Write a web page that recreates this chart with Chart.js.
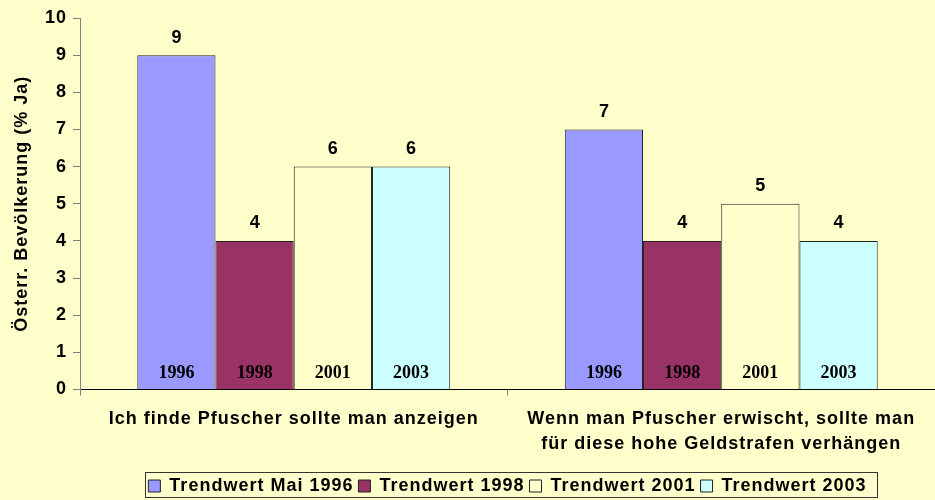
<!DOCTYPE html>
<html>
<head>
<meta charset="utf-8">
<script src="https://cdn.jsdelivr.net/npm/chart.js@4/dist/chart.umd.min.js"></script>
<style>
  html, body { margin: 0; padding: 0; background: #FFFFCC; overflow: hidden; }
  #wrap { width: 935px; height: 500px; }
</style>
</head>
<body>
<div id="wrap"><canvas id="c" width="935" height="500"></canvas></div>
<script>
const categories = [
  'Ich finde Pfuscher sollte man anzeigen',
  ['Wenn man Pfuscher erwischt, sollte man', 'für diese hohe Geldstrafen verhängen']
];
const seriesNames = ['Trendwert Mai 1996', 'Trendwert 1998', 'Trendwert 2001', 'Trendwert 2003'];
const yearLabels = ['1996', '1998', '2001', '2003'];
const values1996 = [9, 7];
const values1998 = [4, 4];
const values2001 = [6, 5];
const values2003 = [6, 4];
const yTicks = [0, 1, 2, 3, 4, 5, 6, 7, 8, 9, 10];
const yTitle = 'Österr. Bevölkerung (% Ja)';

const colors = ['#9999FF', '#993366', '#FFFFCC', '#CCFFFF'];
const seriesValues = [values1996, values1998, values2001, values2003];
const SANS = '"Liberation Sans", Arial, sans-serif';
const SERIF = '"Liberation Serif", "Times New Roman", serif';

function spacing(chart) { chart.ctx.letterSpacing = '1px'; }

const spacingPlugin = {
  id: 'spacing',
  beforeUpdate: spacing,
  beforeLayout: spacing,
  beforeDraw: spacing
};

const labelPlugin = {
  id: 'barLabels',
  afterDatasetsDraw(chart) {
    const ctx = chart.ctx;
    ctx.save();
    ctx.letterSpacing = '1px';
    ctx.fillStyle = '#000';
    ctx.textAlign = 'center';
    ctx.textBaseline = 'middle';
    chart.data.datasets.forEach((ds, i) => {
      const meta = chart.getDatasetMeta(i);
      meta.data.forEach((bar, j) => {
        ctx.font = 'bold 18px ' + SANS;
        ctx.fillText(String(ds.data[j]), bar.x + 0.5, bar.y - 17.5);
        ctx.font = 'bold 18px ' + SERIF;
        ctx.letterSpacing = '0px';
        ctx.fillText(yearLabels[i], bar.x, bar.base - 16);
        ctx.letterSpacing = '1px';
      });
    });
    ctx.restore();
  }
};

const legendFramePlugin = {
  id: 'legendFrame',
  afterDraw(chart) {
    const lg = chart.legend;
    if (!lg || !lg.legendHitBoxes || !lg.legendHitBoxes.length) return;
    const hb = lg.legendHitBoxes;
    const first = hb[0], last = hb[hb.length - 1];
    const ctx = chart.ctx;
    ctx.save();
    ctx.strokeStyle = '#333';
    ctx.lineWidth = 1;
    const l = Math.round(first.left - 3) + 0.5;
    const r = Math.round(last.left + last.width + 10) + 0.5;
    const t = Math.round(lg.top) + 0.5;
    ctx.strokeRect(l, t, r - l, 25);
    ctx.restore();
  }
};

new Chart(document.getElementById('c'), {
  type: 'bar',
  data: {
    labels: categories,
    datasets: seriesNames.map((name, i) => ({
      label: name,
      data: seriesValues[i],
      backgroundColor: colors[i],
      borderColor: '#222',
      borderWidth: 1,
      categoryPercentage: 0.732,
      barPercentage: 1.0
    }))
  },
  plugins: [spacingPlugin, labelPlugin, legendFramePlugin],
  options: {
    responsive: false,
    animation: false,
    devicePixelRatio: 1,
    layout: { padding: { top: 18, left: 0, right: 0, bottom: 0 } },
    plugins: {
      tooltip: { enabled: false },
      legend: {
        display: true,
        position: 'bottom',
        fullSize: false,
        maxHeight: 28,
        labels: {
          boxWidth: 12,
          boxHeight: 12,
          padding: 5,
          color: '#000',
          font: { family: SANS, size: 18, weight: 'bold' }
        }
      }
    },
    scales: {
      x: {
        offset: true,
        border: { display: true, color: '#000', width: 1 },
        grid: { display: true, drawOnChartArea: false, offset: true, tickLength: 6, color: '#808080' },
        ticks: {
          autoSkip: false,
          maxRotation: 0,
          minRotation: 0,
          padding: 11,
          color: '#000',
          font: { family: SANS, size: 18, weight: 'bold', lineHeight: 1.4 }
        },
        afterFit(scale) { scale.height = 82.5; }
      },
      y: {
        min: 0,
        max: 10,
        border: { display: true, color: '#808080', width: 1 },
        grid: { display: true, drawOnChartArea: false, tickLength: 7, color: '#808080' },
        afterBuildTicks(scale) { scale.ticks = yTicks.map(v => ({ value: v })); },
        ticks: {
          padding: 6,
          color: '#000',
          font: { family: SANS, size: 18, weight: 'bold' }
        },
        title: {
          display: true,
          text: yTitle,
          color: '#000',
          padding: { top: 11, bottom: 0 },
          font: { family: SANS, size: 18, weight: 'bold' }
        },
        afterFit(scale) { scale.width = 80; }
      }
    }
  }
});
</script>
</body>
</html>
